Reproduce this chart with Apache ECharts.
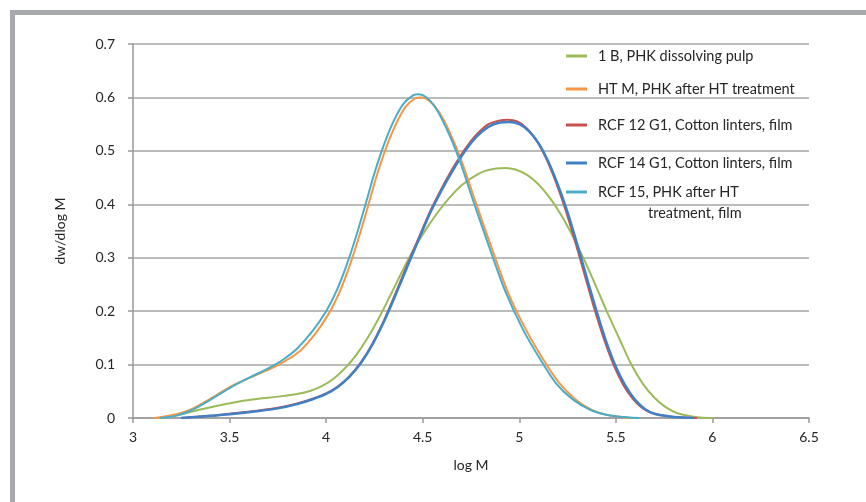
<!DOCTYPE html>
<html>
<head>
<meta charset="utf-8">
<script src="https://cdn.jsdelivr.net/npm/echarts@6/dist/echarts.min.js"></script>
<style>
html,body{margin:0;padding:0;background:#fff;}
#main{width:866px;height:502px;}
</style>
</head>
<body>
<div id="main"></div>
<script>
// series names (legend order)
var names = ['1 B, PHK dissolving pulp', 'HT M, PHK after HT treatment', 'RCF 12 G1, Cotton linters, film', 'RCF 14 G1, Cotton linters, film', 'RCF 15, PHK after HT treatment, film'];
var colors = ['#9bbb59', '#f79646', '#c8504d', '#4080c4', '#4bacc6'];
var xTicks = [3, 3.5, 4, 4.5, 5, 5.5, 6, 6.5];
var yTicks = [0, 0.1, 0.2, 0.3, 0.4, 0.5, 0.6, 0.7];

// [log M, dw/dlog M]
var data1B = [[3.15,0],[3.25,0.007],[3.35,0.016],[3.45,0.024],[3.55,0.031],[3.65,0.036],[3.75,0.04],[3.85,0.045],[3.92,0.051],[3.98,0.06],[4.04,0.074],[4.1,0.094],[4.16,0.12],[4.22,0.153],[4.28,0.192],[4.34,0.235],[4.4,0.279],[4.46,0.32],[4.52,0.355],[4.58,0.386],[4.64,0.413],[4.7,0.435],[4.76,0.451],[4.82,0.462],[4.88,0.467],[4.93,0.468],[4.98,0.465],[5.04,0.455],[5.1,0.437],[5.16,0.411],[5.22,0.378],[5.28,0.338],[5.34,0.293],[5.4,0.244],[5.46,0.194],[5.52,0.147],[5.58,0.1],[5.64,0.064],[5.7,0.038],[5.76,0.02],[5.82,0.009],[5.88,0.004],[5.94,0.001],[6.0,0]];
var dataHTM = [[3.11,0],[3.2,0.005],[3.3,0.016],[3.4,0.036],[3.5,0.058],[3.6,0.075],[3.7,0.09],[3.78,0.105],[3.86,0.124],[3.94,0.156],[4.01,0.193],[4.06,0.228],[4.11,0.273],[4.16,0.327],[4.21,0.388],[4.26,0.451],[4.31,0.505],[4.36,0.549],[4.41,0.582],[4.46,0.598],[4.49,0.600],[4.53,0.595],[4.57,0.58],[4.61,0.557],[4.66,0.518],[4.71,0.472],[4.775,0.403],[4.865,0.31],[4.945,0.232],[5.035,0.165],[5.125,0.109],[5.205,0.066],[5.29,0.035],[5.37,0.016],[5.45,0.006],[5.57,0]];
var dataRCF12 = [[3.25,0],[3.4,0.004],[3.5,0.008],[3.65,0.014],[3.75,0.019],[3.85,0.027],[3.93,0.036],[4.0,0.046],[4.06,0.059],[4.12,0.078],[4.18,0.104],[4.24,0.139],[4.3,0.183],[4.36,0.234],[4.42,0.287],[4.48,0.338],[4.54,0.388],[4.6,0.431],[4.66,0.47],[4.72,0.504],[4.78,0.531],[4.84,0.55],[4.9,0.557],[4.94,0.558],[4.99,0.555],[5.04,0.542],[5.09,0.519],[5.14,0.485],[5.19,0.441],[5.24,0.389],[5.29,0.329],[5.34,0.266],[5.39,0.203],[5.44,0.146],[5.49,0.098],[5.54,0.061],[5.59,0.035],[5.64,0.018],[5.69,0.009],[5.78,0.003],[5.92,0]];
var dataRCF14 = [[3.25,0],[3.4,0.004],[3.5,0.007],[3.65,0.013],[3.75,0.018],[3.85,0.026],[3.93,0.035],[4.0,0.045],[4.06,0.058],[4.12,0.077],[4.18,0.103],[4.24,0.138],[4.3,0.181],[4.36,0.231],[4.42,0.283],[4.48,0.335],[4.54,0.385],[4.6,0.428],[4.66,0.466],[4.72,0.5],[4.78,0.527],[4.84,0.545],[4.9,0.553],[4.95,0.554],[5.0,0.55],[5.05,0.537],[5.1,0.514],[5.15,0.48],[5.2,0.436],[5.25,0.385],[5.3,0.325],[5.35,0.262],[5.4,0.2],[5.45,0.143],[5.5,0.096],[5.55,0.06],[5.6,0.034],[5.65,0.017],[5.7,0.008],[5.78,0.003],[5.9,0]];
var dataRCF15 = [[3.14,0],[3.22,0.004],[3.3,0.014],[3.4,0.034],[3.5,0.056],[3.6,0.075],[3.7,0.093],[3.78,0.11],[3.85,0.13],[3.93,0.163],[4.0,0.2],[4.05,0.235],[4.1,0.28],[4.15,0.334],[4.2,0.395],[4.25,0.458],[4.3,0.512],[4.35,0.556],[4.4,0.588],[4.45,0.604],[4.48,0.606],[4.52,0.600],[4.56,0.584],[4.6,0.559],[4.65,0.52],[4.7,0.473],[4.76,0.408],[4.85,0.314],[4.93,0.235],[5.02,0.165],[5.11,0.109],[5.19,0.065],[5.28,0.034],[5.37,0.015],[5.45,0.006],[5.52,0.0025],[5.62,0]];

var allData = [data1B, dataHTM, dataRCF12, dataRCF14, dataRCF15];
var widths = [2, 2, 2, 2.5, 2];
var FONT = 'Lato';
var legendTops = [48, 81, 117, 155, 184];

var series = [];
var legends = [];
for (var i = 0; i < names.length; i++) {
	series.push({
		name: names[i],
		type: 'line',
		data: allData[i],
		smooth: 0.3,
		showSymbol: false,
		symbol: 'none',
		color: colors[i],
		lineStyle: {width: widths[i], color: colors[i]},
		z: 2 + i
	});
	legends.push({
		data: [names[i]],
		left: 566,
		top: legendTops[i],
		padding: 0,
		icon: 'rect',
		itemWidth: 21,
		itemHeight: 3,
		selectedMode: false,
		formatter: function (n) {
			return n === names[4] ? 'RCF 15, PHK after HT' : n;
		},
		textStyle: {fontFamily: FONT, fontSize: 14.5, color: '#262626', lineHeight: 16, padding: [0, 0, 0, 6]}
	});
}

var chart = echarts.init(document.getElementById('main'));
chart.setOption({
	animation: false,
	backgroundColor: '#fff',
	grid: {left: 133, right: 57, top: 44, bottom: 84},
	legend: legends,
	xAxis: {
		type: 'value', min: xTicks[0], max: xTicks[xTicks.length - 1], interval: 0.5,
		name: 'log M', nameLocation: 'middle', nameGap: 40,
		nameTextStyle: {fontFamily: FONT, fontSize: 14, color: '#262626'},
		axisLine: {lineStyle: {color: '#999', width: 1.5}},
		axisTick: {show: true, length: 5, lineStyle: {color: '#999', width: 1.5}},
		axisLabel: {fontFamily: FONT, fontSize: 14, color: '#262626', margin: 12},
		splitLine: {show: false}
	},
	yAxis: {
		type: 'value', min: yTicks[0], max: yTicks[yTicks.length - 1], interval: 0.1,
		name: 'dw/dlog M', nameLocation: 'middle', nameGap: 66, nameRotate: 90,
		nameTextStyle: {fontFamily: FONT, fontSize: 14, color: '#262626'},
		axisLine: {show: true, lineStyle: {color: '#999', width: 1.5}},
		axisTick: {show: true, length: 5, lineStyle: {color: '#999', width: 1.5}},
		axisLabel: {fontFamily: FONT, fontSize: 14, color: '#262626', margin: 18},
		splitLine: {lineStyle: {color: '#a6a6a6', width: 1.5}}
	},
	graphic: [
		{type: 'rect', left: 10, top: 10, shape: {width: 5, height: 492}, style: {fill: '#a7a9ac'}},
		{type: 'rect', left: 10, top: 10, shape: {width: 856, height: 5}, style: {fill: '#a7a9ac'}},
		{type: 'text', left: 648, top: 206, style: {text: 'treatment, film', fontFamily: FONT, fontSize: 14.5, fill: '#262626'}}
	],
	series: series
});
</script>
</body>
</html>
